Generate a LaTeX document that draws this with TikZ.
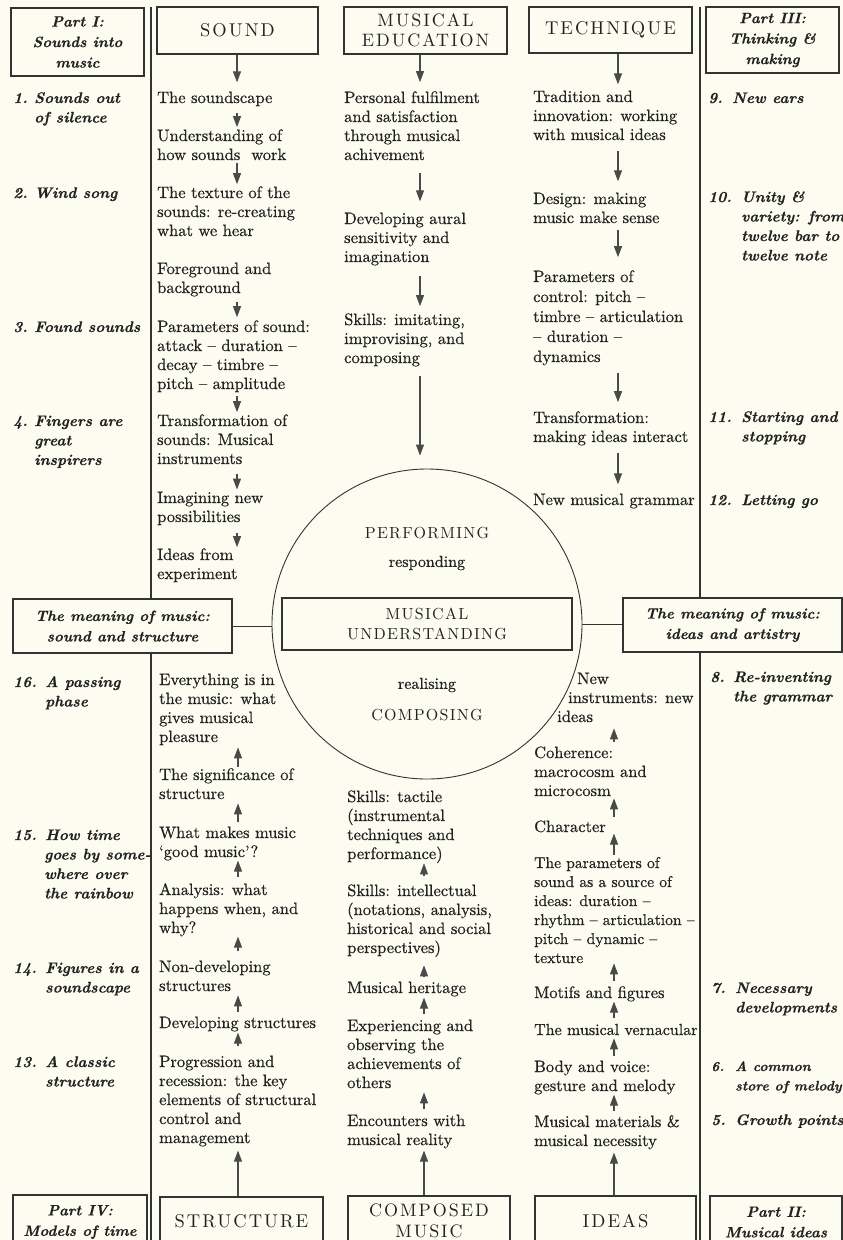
\documentclass[tikz,border=0pt]{standalone}
\usepackage{fontspec}
\setmainfont{lmroman10}[Extension=.otf,UprightFont=*-regular,BoldFont=*-bold,ItalicFont=*-italic,BoldItalicFont=*-bolditalic]
\newfontface\bodyfont{lmroman10-regular.otf}[FakeBold=0.6]
\newfontface\lblfont{lmroman10-bolditalic.otf}[FakeBold=0.4]
\usetikzlibrary{arrows.meta}
\definecolor{MUPaper}{HTML}{FCFCF0}
\definecolor{MUInk}{HTML}{222222}
\definecolor{MULine}{HTML}{333333}
\definecolor{MUArrow}{HTML}{4A4A4A}
\newcommand{\numlbl}[2][21pt]{\makebox[#1][l]{#2}}
\newcommand{\lblind}[1][21pt]{\hspace*{#1}}

\begin{document}
\begin{tikzpicture}[x=1pt,y=-1pt,
  txt/.style={anchor=base west,inner sep=0pt,align=left,text=MUInk,font=\fontsize{16.5}{19}\bodyfont},
  lbl/.style={anchor=base west,inner sep=0pt,align=left,text=MUInk,font=\fontsize{15.3}{19.5}\lblfont},
  headbox/.style={draw=MULine,line width=1.1pt,inner sep=0pt,align=center,text=MUInk,font=\fontsize{18.5}{20}\selectfont\addfontfeatures{LetterSpace=11}},
  partbox/.style={draw=MULine,line width=1.1pt,inner sep=0pt,align=center,text=MUInk,font=\fontsize{15}{20.5}\lblfont},
  ctext/.style={inner sep=0pt,text=MUInk,font=\fontsize{16}{20}\selectfont\addfontfeatures{LetterSpace=8}},
  arr/.style={-{Triangle[length=11pt,width=8pt]},line width=1.1pt,draw=MUArrow},
  rule/.style={line width=1.2pt,draw=MULine},
]
\useasboundingbox (0,0) rectangle (843,1240);
\fill[MUPaper] (0,0) rectangle (843,1240);
\clip (0,0) rectangle (843,1240);

% arrow columns and dividers
\coordinate (xS) at (237,0);
\coordinate (xE) at (420,0);
\coordinate (xT) at (618,0);
\coordinate (xSt) at (238,0);
\coordinate (xC) at (424,0);
\coordinate (xI) at (614,0);
\coordinate (dL) at (151,7);
\coordinate (dR) at (700,7);
\coordinate (bot) at (0,1245);

% heads, top row
\node[partbox,minimum width=133pt,minimum height=68pt] (p1) at (77.5,42) {Part I:\\Sounds into\\music};
\node[headbox,minimum width=161pt,minimum height=47pt] (sound) at (237.5,30.5) {SOUND};
\node[headbox,minimum width=163pt,minimum height=47pt,font=\fontsize{18}{20}\selectfont\addfontfeatures{LetterSpace=11}] (edu) at (425.5,30.5) {MUSICAL\\EDUCATION};
\node[headbox,minimum width=163pt,minimum height=46pt] (tech) at (610.5,30) {TECHNIQUE};
\node[partbox,minimum width=133pt,minimum height=66pt] (p3) at (772.5,40) {Part III:\\Thinking \&\\making};

% heads, bottom row
\node[partbox,minimum width=134pt,minimum height=54pt] (p4) at (80,1222) {Part IV:\\Models of time};
\node[headbox,minimum width=163pt,minimum height=48pt] (struct) at (241.5,1221) {STRUCTURE};
\node[headbox,minimum width=162pt,minimum height=50pt,font=\fontsize{18}{21}\selectfont\addfontfeatures{LetterSpace=11}] (comp) at (429,1221) {COMPOSED\\MUSIC};
\node[headbox,minimum width=161pt,minimum height=50pt] (ideas) at (615.5,1221) {IDEAS};
\node[partbox,minimum width=132pt,minimum height=52pt] (p2) at (776,1222) {Part II:\\Musical ideas};

% centre
\node[partbox,minimum width=219pt,minimum height=54pt] (mL) at (122.5,626) {The meaning of music:\\sound and structure};
\node[partbox,minimum width=219pt,minimum height=54pt] (mR) at (732.5,625) {The meaning of music:\\ideas and artistry};
\node[circle,draw=MULine,line width=0.9pt,minimum size=310pt,inner sep=0pt] (mu) at (427,624) {};
\node[headbox,minimum width=290pt,minimum height=52pt,font=\fontsize{16}{20}\selectfont\addfontfeatures{LetterSpace=8}] (mub) at (427,624) {MUSICAL\\UNDERSTANDING};
\node[ctext] (perf) at (427,533) {PERFORMING};
\node[ctext,font=\fontsize{16}{20}\bodyfont] (resp) at (427,563) {responding};
\node[ctext,font=\fontsize{16}{20}\bodyfont] (real) at (427,685) {realising};
\node[ctext] (compo) at (427,715) {COMPOSING};

% left labels
\node[lbl] (l1) at (13,122.5) {\numlbl{1.}Sounds out\\\lblind of silence};
\node[lbl] (l2) at (13,198) {\numlbl{2.}Wind song};
\node[lbl] (l3) at (13,332) {\numlbl{3.}Found sounds};
\node[lbl] (l4) at (13,465) {\numlbl{4.}Fingers are\\\lblind great\\\lblind inspirers};
\node[lbl] (l16) at (13,706.5) {\numlbl[32pt]{16.}A passing\\\lblind[32pt]phase};
\node[lbl] (l15) at (13,898.5) {\numlbl[32pt]{15.}How time\\\lblind[31pt]goes by some-\\\lblind[31pt]where over\\\lblind[31pt]the rainbow};
\node[lbl] (l14) at (13,992.5) {\numlbl[32pt]{14.}Figures in a\\\lblind[32pt]soundscape};
\node[lbl] (l13) at (13,1086.5) {\numlbl[32pt]{13.}A classic\\\lblind[32pt]structure};

% right labels
\node[lbl] (r9) at (708,103) {\numlbl[24pt]{9.}New ears};
\node[lbl] (r10) at (708,260.5) {\numlbl[33pt]{10.}Unity \&\\\lblind[33pt]variety: from\\\lblind[33pt]twelve bar to\\\lblind[33pt]twelve note};
\node[lbl] (r11) at (708,441.5) {\numlbl[33pt]{11.}Starting and\\\lblind[33pt]stopping};
\node[lbl] (r12) at (708,505) {\numlbl[33pt]{12.}Letting go};
\node[lbl] (r8) at (710,701.5) {\numlbl[23pt]{8.}Re-inventing\\\lblind[23pt]the grammar};
\node[lbl] (r7) at (711,1012.5) {\numlbl[24pt]{7.}Necessary\\\lblind[24pt]developments};
\node[lbl,font=\fontsize{13.8}{19.5}\lblfont] (r6) at (711,1090.5) {\numlbl[24pt]{6.}A common\\\lblind[24pt]store of melody};
\node[lbl] (r5) at (711,1125) {\numlbl[24pt]{5.}Growth points};

% sound column
\node[txt] (s1) at (157,103) {The soundscape};
\node[txt] (s2) at (157,160) {Understanding of\\how sounds\ \ work};
\node[txt] (s3) at (157,236) {The texture of the\\sounds: re-creating\\what we hear};
\node[txt] (s4) at (157,293) {Foreground and\\background};
\node[txt] (s5) at (157,389) {Parameters of sound:\\attack – duration –\\decay – timbre –\\pitch – amplitude};
\node[txt] (s6) at (157,464) {Transformation of\\sounds: Musical\\instruments};
\node[txt] (s7) at (157,522) {Imagining new\\possibilities};
\node[txt] (s8) at (157,579) {Ideas from\\experiment};

% education column
\node[txt] (e1) at (344,160) {Personal fulfilment\\and satisfaction\\through musical\\achivement};
\node[txt] (e2) at (344,262) {Developing aural\\sensitivity and\\imagination};
\node[txt] (e3) at (344,363) {Skills: imitating,\\improvising, and\\composing};

% technique column
\node[txt] (t1) at (533,140) {Tradition and\\innovation: working\\with musical ideas};
\node[txt] (t2) at (533,223) {Design: making\\music make sense};
\node[txt,font=\fontsize{16.5}{20}\bodyfont] (t3) at (533,362) {Parameters of\\control: pitch –\\timbre – articulation\\– duration –\\dynamics};
\node[txt] (t4) at (533,442) {Transformation:\\making ideas interact};
\node[txt] (t5) at (533,505) {New musical grammar};

% structure column
\node[txt] (st1) at (159,742) {Everything is in\\the music: what\\gives musical\\pleasure};
\node[txt] (st2) at (159,799) {The significance of\\structure};
\node[txt] (st3) at (159,857) {What makes music\\‘good music’?};
\node[txt] (st4) at (159,933) {Analysis: what\\happens when, and\\why?};
\node[txt] (st5) at (159,991) {Non-developing\\structures};
\node[txt] (st6) at (159,1028) {Developing structures};
\node[txt] (st7) at (159,1143) {Progression and\\recession: the key\\elements of structural\\control and\\management};

% composed music column
\node[txt] (c1) at (347,859) {Skills: tactile\\(instrumental\\techniques and\\performance)};
\node[txt] (c2) at (347,953) {Skills: intellectual\\(notations, analysis,\\historical and social\\perspectives)};
\node[txt] (c3) at (347,993) {Musical heritage};
\node[txt] (c4) at (347,1088) {Experiencing and\\observing the\\achievements of\\others};
\node[txt] (c5) at (347,1145) {Encounters with\\musical reality};

% ideas column
\node[txt] (i1) at (557,722) {\hspace*{20pt}New\\\hspace*{11pt}instruments: new\\ideas};
\node[txt] (i2) at (534,796) {Coherence:\\macrocosm and\\microcosm};
\node[txt] (i3) at (534,832) {Character};
\node[txt,font=\fontsize{15.6}{19}\bodyfont] (i4) at (534,963) {The parameters of\\sound as a source of\\ideas: duration –\\rhythm – articulation –\\pitch – dynamic –\\texture};
\node[txt] (i5) at (534,998) {Motifs and figures};
\node[txt,font=\fontsize{16}{19}\bodyfont] (i6) at (534,1035) {The musical vernacular};
\node[txt] (i7) at (534,1091) {Body and voice:\\gesture and melody};
\node[txt] (i8) at (534,1146) {Musical materials \&\\musical necessity};

% dividers and links
\draw[rule] (dL) -- (dL |- mL.north);
\draw[rule] (dL |- mL.south) -- (dL |- bot);
\draw[rule] (dR) -- (dR |- mR.north);
\draw[rule] (dR |- mR.south) -- (dR |- bot);
\draw[rule,line width=1pt] (mL.east) -- (mL.east -| mu.west);
\draw[rule,line width=1pt] (mu.east) -- (mu.east -| mR.west);

% downward arrows
\draw[arr,shorten >=9pt] (sound.south -| xS) -- (s1.north -| xS);
\draw[arr,shorten <=7pt,shorten >=2pt] (s1.south -| xS) -- (s2.north -| xS);
\draw[arr,shorten <=3pt,shorten >=2pt] (s2.south -| xS) -- (s3.north -| xS);
\draw[arr,shorten <=5pt,shorten >=3pt] (s4.south -| xS) -- (s5.north -| xS);
\draw[arr,shorten <=4pt,shorten >=2pt] (s5.south -| xS) -- (s6.north -| xS);
\draw[arr,shorten <=10pt,shorten >=2pt] (s6.south -| xS) -- (s7.north -| xS);
\draw[arr,shorten <=8pt,shorten >=1pt] (s7.south -| xS) -- (s8.north -| xS);
\draw[arr,shorten >=9pt] (edu.south -| xE) -- (e1.north -| xE);
\draw[arr,shorten <=13pt,shorten >=11pt] (e1.south -| xE) -- (e2.north -| xE);
\draw[arr,shorten <=10pt,shorten >=7pt] (e2.south -| xE) -- (e3.north -| xE);
\draw[arr,shorten <=9pt,shorten >=13pt] (e3.south -| xE) -- (mu.north -| xE);
\draw[arr,shorten >=6pt] (tech.south -| xT) -- (t1.north -| xT);
\draw[arr,shorten <=11pt,shorten >=11pt] (t1.south -| xT) -- (t2.north -| xT);
\draw[arr,shorten <=7pt,shorten >=13pt] (t2.south -| xT) -- (t3.north -| xT);
\draw[arr,shorten <=7pt,shorten >=9pt] (t3.south -| xT) -- (t4.north -| xT);
\draw[arr,shorten <=7pt,shorten >=9pt] (t4.south -| xT) -- (t5.north -| xT);

% upward arrows
\draw[arr,shorten >=4pt] (struct.north -| xSt) -- (st7.south -| xSt);
\draw[arr,shorten <=9pt,shorten >=1pt] (st7.north -| xSt) -- (st6.south -| xSt);
\draw[arr,shorten <=4pt,shorten >=4pt] (st6.north -| xSt) -- (st5.south -| xSt);
\draw[arr,shorten <=9pt] (st5.north -| xSt) -- (st4.south -| xSt);
\draw[arr,shorten <=6pt] (st4.north -| xSt) -- (st3.south -| xSt);
\draw[arr,shorten <=4pt,shorten >=4pt] (st3.north -| xSt) -- (st2.south -| xSt);
\draw[arr,shorten <=1pt,shorten >=2pt] (st2.north -| xSt) -- (st1.south -| xSt);
\draw[arr,shorten >=2pt] (comp.north -| xC) -- (c5.south -| xC);
\draw[arr,shorten <=5pt,shorten >=4pt] (c5.north -| xC) -- (c4.south -| xC);
\draw[arr,shorten <=5pt,shorten >=1pt] (c4.north -| xC) -- (c3.south -| xC);
\draw[arr,shorten <=5pt,shorten >=8pt] (c3.north -| xC) -- (c2.south -| xC);
\draw[arr,shorten <=8pt] (c2.north -| xC) -- (c1.south -| xC);
\draw[arr,shorten >=3pt] (ideas.north -| xI) -- (i8.south -| xI);
\draw[arr,shorten <=4pt] (i8.north -| xI) -- (i7.south -| xI);
\draw[arr,shorten <=4pt,shorten >=3pt] (i7.north -| xI) -- (i6.south -| xI);
\draw[arr,shorten <=6pt] (i6.north -| xI) -- (i5.south -| xI);
\draw[arr,shorten <=5pt] (i5.north -| xI) -- (i4.south -| xI);
\draw[arr,shorten <=2pt,shorten >=1pt] (i4.north -| xI) -- (i3.south -| xI);
\draw[arr,shorten <=3pt,shorten >=2pt] (i3.north -| xI) -- (i2.south -| xI);
\draw[arr,shorten <=4pt,shorten >=6pt] (i2.north -| xI) -- (i1.south -| xI);
\end{tikzpicture}
\end{document}
